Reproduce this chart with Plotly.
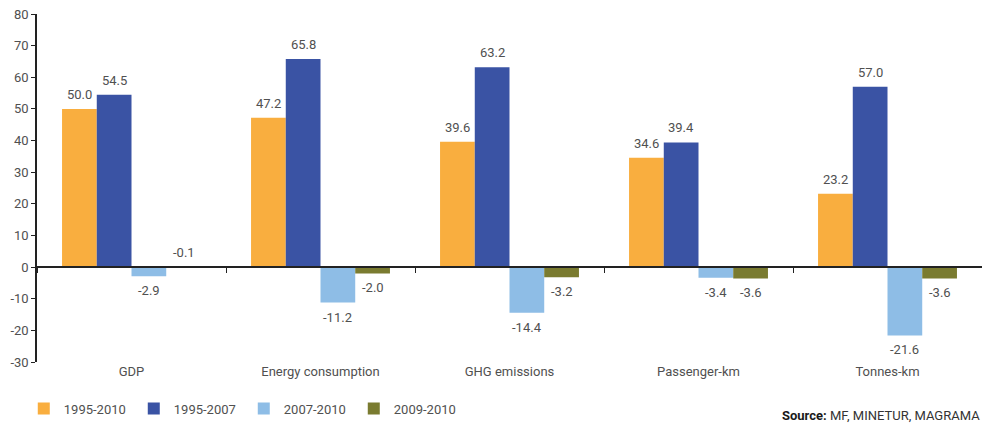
import plotly.graph_objects as go

categories = ["GDP", "Energy consumption", "GHG emissions", "Passenger-km", "Tonnes-km"]
series_names = ["1995-2010", "1995-2007", "2007-2010", "2009-2010"]
v_1995_2010 = [50.0, 47.2, 39.6, 34.6, 23.2]
v_1995_2007 = [54.5, 65.8, 63.2, 39.4, 57.0]
v_2007_2010 = [-2.9, -11.2, -14.4, -3.4, -21.6]
v_2009_2010 = [-0.1, -2.0, -3.2, -3.6, -3.6]
y_ticks = [-30, -20, -10, 0, 10, 20, 30, 40, 50, 60, 70, 80]

series_values = [v_1995_2010, v_1995_2007, v_2007_2010, v_2009_2010]
colors = ["#F9AE3F", "#3A53A4", "#8EBDE6", "#7A7B30"]

FONT = "Roboto"
GREY = "#505050"
Y_MIN, Y_MAX = -30, 80

fig = go.Figure()
x_idx = list(range(len(categories)))
for name, vals, col in zip(series_names, series_values, colors):
    fig.add_trace(go.Bar(
        x=x_idx, y=vals, name=name, marker=dict(color=col, line=dict(width=0)),
        offsetgroup=name,
    ))

# value labels above positive bars (and near-zero ones), below negative bars
n = len(series_names)
group_width = 1 - 0.265
bar_w = group_width / n
for si, vals in enumerate(series_values):
    for ci, v in enumerate(vals):
        xpos = ci - group_width / 2 + bar_w * (si + 0.5)
        above = v > -0.5
        fig.add_annotation(
            x=xpos, y=max(v, 0) if above else v, xref="x", yref="y",
            text=f"{v:.1f}", showarrow=False,
            yanchor="bottom" if above else "top",
            yshift=5 if above else -5,
            font=dict(family=FONT, size=13, color=GREY),
        )

fig.add_annotation(
    x=1, y=-0.155, xref="paper", yref="paper", xanchor="right", yanchor="middle",
    text="<b><span style='color:#1a1a1a'>Source:</span></b> MF, MINETUR, MAGRAMA",
    showarrow=False,
    font=dict(family=FONT, size=13, color="#333333"),
)

fig.update_layout(
    width=982, height=424,
    margin=dict(l=37, r=0, t=14, b=62),
    paper_bgcolor="white", plot_bgcolor="white",
    barmode="group", bargap=0.265, bargroupgap=0,
    font=dict(family=FONT, size=13, color=GREY),
    showlegend=True,
    legend=dict(orientation="h", x=-0.014, xanchor="left", y=-0.177, yanchor="bottom",
                entrywidth=65, entrywidthmode="pixels", itemwidth=30,
                font=dict(family=FONT, size=13, color=GREY),
                itemclick=False, traceorder="normal"),
    xaxis=dict(
        range=[-0.5, len(categories) - 0.5], tickvals=x_idx, ticktext=categories,
        showline=False, showgrid=False, zeroline=False, ticks="",
        tickfont=dict(family=FONT, size=13, color=GREY),
    ),
    # zero line with category separators
    xaxis2=dict(
        overlaying="x", anchor="free",
        position=(0 - Y_MIN) / (Y_MAX - Y_MIN),
        range=[-0.5, len(categories) - 0.5],
        tickvals=[i - 0.5 for i in range(len(categories) + 1)],
        showticklabels=False, ticks="outside", ticklen=5, tickcolor="#222222",
        showline=True, linecolor="#222222", linewidth=1.5,
        showgrid=False, zeroline=False, side="bottom",
    ),
    yaxis=dict(
        range=[Y_MIN, Y_MAX], tickvals=y_ticks, ticktext=[str(t) for t in y_ticks],
        showline=True, linecolor="#222222", linewidth=1.5,
        ticks="outside", ticklen=4, tickcolor="#222222",
        showgrid=False, zeroline=False,
        tickfont=dict(family=FONT, size=13, color=GREY),
    ),
)
# invisible point so the zero-line axis is drawn
fig.add_trace(go.Scatter(x=[0], y=[0], xaxis="x2", mode="markers",
                         marker=dict(opacity=0), showlegend=False, hoverinfo="skip"))

fig.write_html("out.html")
